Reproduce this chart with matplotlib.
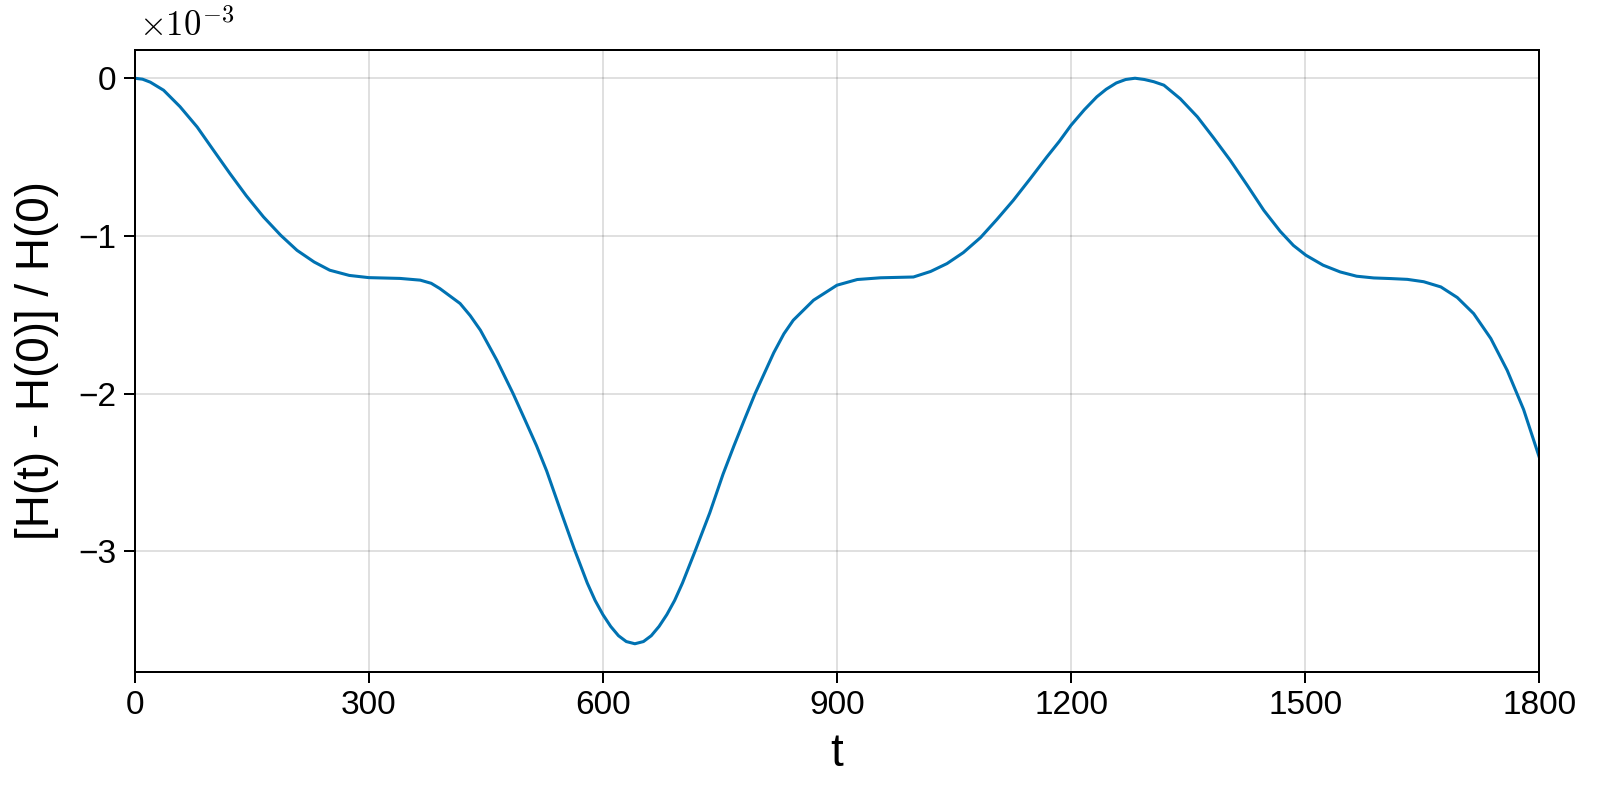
import matplotlib

matplotlib.use("Agg")
import matplotlib.pyplot as plt

# relative energy error (units of 1e-3)
t = [0, 10, 20, 37, 58, 80, 100, 122, 143, 165, 187, 208, 230, 250, 275, 300,
     340, 366, 380, 391, 417, 430, 443, 464, 485, 500, 515, 528, 545, 563, 580,
     590, 600, 610, 620, 630, 641, 652, 662, 672, 682, 692, 702, 718, 737, 754,
     768, 782, 795, 819, 832, 844, 870, 900, 926, 956, 998, 1020, 1041, 1062,
     1084, 1105, 1126, 1148, 1169, 1185, 1200, 1217, 1233, 1245, 1258, 1270,
     1282, 1294, 1306, 1319, 1340, 1362, 1383, 1404, 1426, 1447, 1468, 1485,
     1501, 1523, 1545, 1566, 1588, 1610, 1631, 1652, 1674, 1695, 1716, 1738,
     1759, 1780, 1800]
dH = [0.0, -0.006, -0.025, -0.076, -0.18, -0.309, -0.45, -0.604, -0.745, -0.879,
      -0.995, -1.091, -1.165, -1.217, -1.25, -1.264, -1.269, -1.28, -1.30,
      -1.333, -1.428, -1.505, -1.597, -1.787, -2.0, -2.164, -2.33, -2.49, -2.73,
      -2.98, -3.2, -3.31, -3.40, -3.475, -3.534, -3.571, -3.585, -3.571, -3.534,
      -3.475, -3.40, -3.31, -3.2, -3.0, -2.755, -2.51, -2.33, -2.157, -2.0,
      -1.74, -1.62, -1.534, -1.407, -1.312, -1.276, -1.265, -1.26, -1.225,
      -1.175, -1.105, -1.01, -0.895, -0.774, -0.635, -0.499, -0.4, -0.298, -0.2,
      -0.118, -0.07, -0.03, -0.008, 0.0, -0.008, -0.022, -0.044, -0.13, -0.245,
      -0.38, -0.52, -0.68, -0.837, -0.97, -1.06, -1.122, -1.185, -1.228, -1.255,
      -1.266, -1.27, -1.275, -1.29, -1.323, -1.39, -1.492, -1.65, -1.852, -2.1,
      -2.401]

XTICKS = [0, 300, 600, 900, 1200, 1500, 1800]
YTICKS = [-3, -2, -1, 0]

plt.rcParams["font.family"] = ["Liberation Sans", "DejaVu Sans"]
plt.rcParams["mathtext.fontset"] = "cm"

fig = plt.figure(figsize=(16, 8), dpi=100)
ax = fig.add_axes([0.0842, 0.16, 0.8778, 0.7775])

ax.plot(t, dH, color="#0072B2", lw=2.2)

ax.set_xlim(0, 1800)
ax.set_ylim(-3.764, 0.179)
ax.set_xticks(XTICKS)
ax.set_yticks(YTICKS)
ax.grid(True, color="black", alpha=0.12, lw=1.44)
ax.set_axisbelow(True)
for s in ax.spines.values():
    s.set_linewidth(1.44)
ax.tick_params(direction="out", length=8, width=1.44, labelsize=24, pad=5)

ax.set_xlabel("t", fontsize=33, labelpad=8)
ax.set_ylabel("[H(t) - H(0)] / H(0)", fontsize=33, labelpad=14)
ax.text(0.003, 1.012, r"$\times 10^{-3}$", transform=ax.transAxes,
        fontsize=25, ha="left", va="bottom")

fig.savefig("out.png", dpi=100)
